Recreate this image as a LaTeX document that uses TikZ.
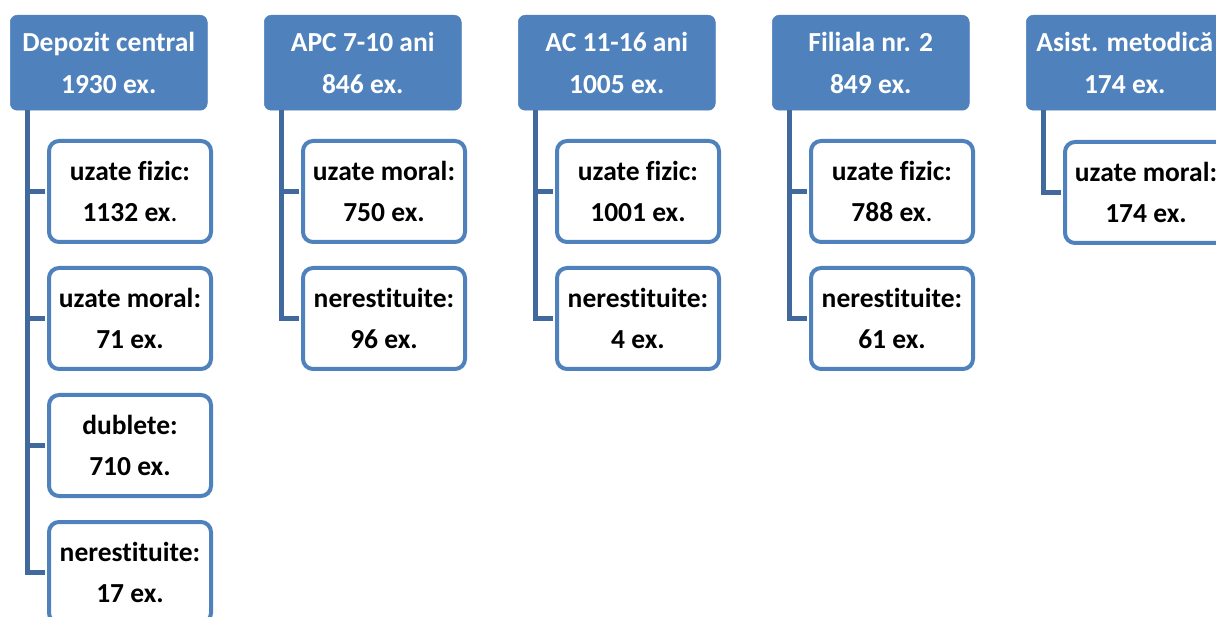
\documentclass[tikz,border=0pt]{standalone}
\usepackage{fontspec}
\setmainfont{Carlito}[RawFeature={-liga}]
\definecolor{accent}{HTML}{4F81BD}
\definecolor{conn}{HTML}{41699E}
\tikzset{
  parentbox/.style={fill=accent, draw=accent, line width=0.5pt, rounded corners=7pt,
    minimum width=197pt, minimum height=95pt, inner sep=0pt, anchor=north west,
    text=white, align=center, font=\fontsize{27.5pt}{41.5pt}\selectfont\bfseries},
  childbox/.style={fill=white, draw=accent, line width=4pt, rounded corners=10pt,
    minimum width=162pt, minimum height=101pt, inner sep=0pt, anchor=north west,
    text=black, align=center, font=\fontsize{27.5pt}{41.5pt}\selectfont\bfseries},
  connector/.style={draw=conn, line width=5pt, line join=miter, shorten >=2pt}
}
\begin{document}
\begin{tikzpicture}[x=1pt,y=-1pt]
\useasboundingbox (0,0) rectangle (1216,617);
\clip (0,0) rectangle (1216,617);
% column 0
\node[parentbox] (p0) at (10,15) {Depozit central\\1930 ex.};
\node[childbox] (c01) at (47,139) {uzate fizic:\\1132 ex{\mdseries .}};
\node[childbox] (c02) at (47,266) {uzate moral:\\71 ex.};
\node[childbox] (c03) at (47,393) {dublete:\\710 ex.};
\node[childbox] (c04) at (47,520) {nerestituite:\\17 ex.};
% column 1
\node[parentbox] (p1) at (264,15) {APC 7-10 ani\\846 ex.};
\node[childbox] (c11) at (301,139) {uzate moral:\\750 ex.};
\node[childbox] (c12) at (301,266) {nerestituite:\\96 ex.};
% column 2
\node[parentbox] (p2) at (518,15) {AC 11-16 ani\\1005 ex.};
\node[childbox] (c21) at (555,139) {uzate fizic:\\1001 ex.};
\node[childbox] (c22) at (555,266) {nerestituite:\\4 ex.};
% column 3
\node[parentbox] (p3) at (772,15) {Filiala nr. 2\\849 ex.};
\node[childbox] (c31) at (809,139) {uzate fizic:\\788 ex{\mdseries .}};
\node[childbox] (c32) at (809,266) {nerestituite:\\61 ex.};
% column 4
\node[parentbox] (p4) at (1026,15) {Asist. metodică\\174 ex.};
\node[childbox] (c41) at (1063,140) {uzate moral:\\174 ex.};
% connectors
\foreach \p/\c in {p0/c01,p0/c02,p0/c03,p0/c04,p1/c11,p1/c12,p2/c21,p2/c22,p3/c31,p3/c32,p4/c41}
  \draw[connector] ([xshift=17pt]\p.south west) |- (\c.west);
\end{tikzpicture}
\end{document}
